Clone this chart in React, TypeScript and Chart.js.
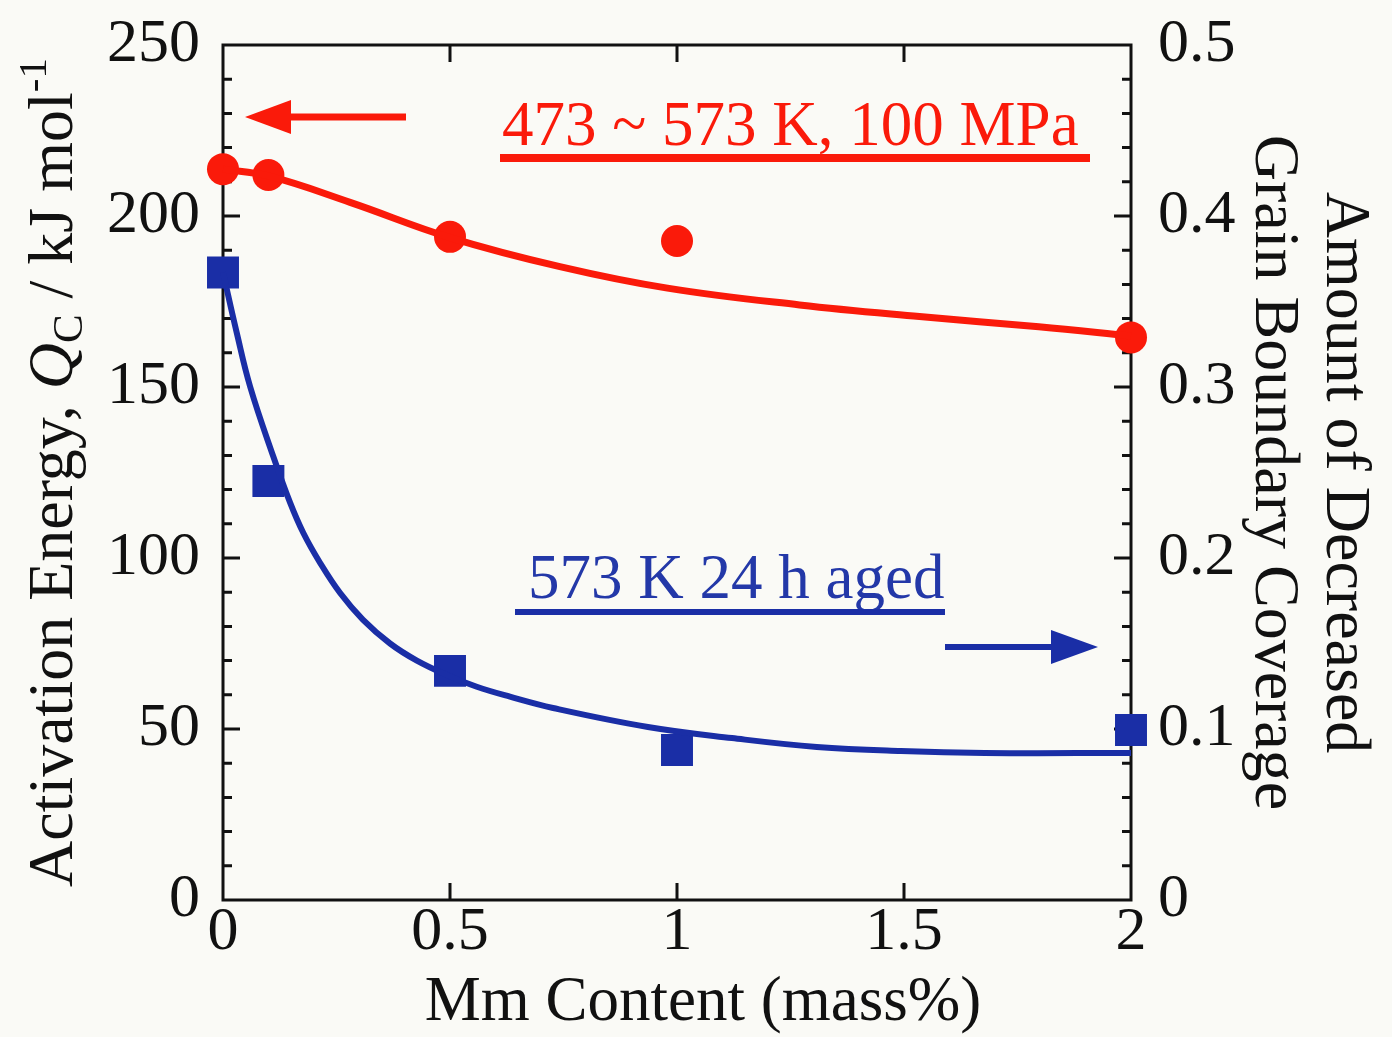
import React, { useEffect, useRef } from 'react';
import { Chart, registerables } from 'chart.js';

Chart.register(...registerables);

// ---------- data ----------
const redPointX = [0, 0.1, 0.5, 1, 2];
const redPointY = [213.7, 212.0, 193.9, 192.7, 164.5];

const redCurveX = [0, 0.1, 0.28, 0.5, 0.742, 0.979, 1.27, 1.534, 1.797, 2.0];
const redCurveY = [213.7, 211.7, 204.0, 193.7, 185.2, 178.9, 174.0, 170.6, 167.6, 164.9];

const bluePointX = [0, 0.1, 0.5, 1, 2];
const bluePointY = [0.367, 0.245, 0.134, 0.0877, 0.0994];

const blueCurveX = [0, 0.03, 0.06, 0.111, 0.148, 0.177, 0.214, 0.258, 0.308, 0.368, 0.427, 0.493, 0.559, 0.632, 0.727, 0.936, 1.121, 1.308, 1.493, 1.678, 2.0];
const blueCurveY = [0.367, 0.332, 0.3, 0.2592, 0.2322, 0.2146, 0.1971, 0.1795, 0.164, 0.15, 0.14, 0.1316, 0.1247, 0.1189, 0.1123, 0.1012, 0.0947, 0.0895, 0.0871, 0.086, 0.086];

const xTickValues = [0, 0.5, 1, 1.5, 2];
const xTickLabels = ['0', '0.5', '1', '1.5', '2'];
const leftTickValues = [0, 50, 100, 150, 200, 250];
const leftTickLabels = ['0', '50', '100', '150', '200', '250'];
const rightTickValues = [0, 0.1, 0.2, 0.3, 0.4, 0.5];
const rightTickLabels = ['0', '0.1', '0.2', '0.3', '0.4', '0.5'];

const redLabel = '473 ~ 573 K, 100 MPa';
const blueLabel = '573 K 24 h aged';
const xTitle = 'Mm Content (mass%)';
const rightTitleLines = ['Amount of Decreased', 'Grain Boundary Coverage'];

// ---------- style ----------
const W = 1392;
const H = 1037;
const FONT = '"Liberation Serif", "DejaVu Serif", "Times New Roman", serif';
const RED = '#fa1a0a';
const BLUE = '#1a2ea6';
const BLUE_TEXT = '#2338a8';
const INK = '#111111';
const BG = '#fafaf6';

const toPts = (xs: number[], ys: number[]) => xs.map((x, i) => ({ x, y: ys[i] }));

type Run = { text: string; font: string; dy: number };

function drawRuns(ctx: CanvasRenderingContext2D, runs: Run[], cx: number, y: number) {
  let total = 0;
  const widths = runs.map((r) => {
    ctx.font = r.font;
    const w = ctx.measureText(r.text).width;
    total += w;
    return w;
  });
  let x = cx - total / 2;
  runs.forEach((r, i) => {
    ctx.font = r.font;
    ctx.fillText(r.text, x, y + r.dy);
    x += widths[i];
  });
}

function arrow(ctx: CanvasRenderingContext2D, x0: number, x1: number, y: number, headLen: number, headHalf: number, lw: number, color: string) {
  const dir = Math.sign(x1 - x0);
  ctx.save();
  ctx.strokeStyle = color;
  ctx.fillStyle = color;
  ctx.lineWidth = lw;
  ctx.beginPath();
  ctx.moveTo(x0, y);
  ctx.lineTo(x1 - dir * headLen, y);
  ctx.stroke();
  ctx.beginPath();
  ctx.moveTo(x1, y);
  ctx.lineTo(x1 - dir * headLen, y - headHalf);
  ctx.lineTo(x1 - dir * headLen, y + headHalf);
  ctx.closePath();
  ctx.fill();
  ctx.restore();
}

const framePlugin = {
  id: 'frameAndDecor',
  beforeDraw(chart: any) {
    const ctx = chart.ctx as CanvasRenderingContext2D;
    ctx.save();
    ctx.fillStyle = BG;
    ctx.fillRect(0, 0, chart.width, chart.height);
    ctx.restore();
  },
  beforeDatasetsDraw(chart: any) {
    const ctx = chart.ctx as CanvasRenderingContext2D;
    const { left, right, top, bottom } = chart.chartArea;
    const ys = chart.scales.y;
    const xs = chart.scales.x;
    ctx.save();
    ctx.strokeStyle = INK;
    ctx.lineWidth = 3;
    ctx.lineCap = 'butt';
    for (let v = 10; v < 250; v += 10) {
      const p = ys.getPixelForValue(v);
      const len = v % 50 === 0 ? 17 : 9;
      ctx.beginPath();
      ctx.moveTo(left, p);
      ctx.lineTo(left + len, p);
      ctx.moveTo(right, p);
      ctx.lineTo(right - len, p);
      ctx.stroke();
    }
    for (const v of xTickValues) {
      if (v === 0 || v === 2) continue;
      const p = xs.getPixelForValue(v);
      ctx.beginPath();
      ctx.moveTo(p, bottom);
      ctx.lineTo(p, bottom - 17);
      ctx.moveTo(p, top);
      ctx.lineTo(p, top + 17);
      ctx.stroke();
    }
    ctx.strokeRect(left, top, right - left, bottom - top);
    ctx.restore();
  },
  afterDraw(chart: any) {
    const ctx = chart.ctx as CanvasRenderingContext2D;
    const { left, right, top, bottom } = chart.chartArea;
    const midY = (top + bottom) / 2;
    ctx.save();
    ctx.textBaseline = 'alphabetic';
    ctx.textAlign = 'left';
    ctx.fillStyle = INK;

    // x title
    ctx.font = `63px ${FONT}`;
    ctx.textAlign = 'center';
    ctx.fillText(xTitle, (left + right) / 2 + 26, 1020);
    ctx.textAlign = 'left';

    // left title (rotated)
    ctx.save();
    ctx.translate(72, midY);
    ctx.rotate(-Math.PI / 2);
    drawRuns(
      ctx,
      [
        { text: 'Activation Energy, ', font: `64px ${FONT}`, dy: 0 },
        { text: 'Q', font: `italic 64px ${FONT}`, dy: 0 },
        { text: 'C', font: `43px ${FONT}`, dy: 10 },
        { text: ' / kJ mol', font: `64px ${FONT}`, dy: 0 },
        { text: '-1', font: `41px ${FONT}`, dy: -26 },
      ],
      0,
      0
    );
    ctx.restore();

    // right title (rotated clockwise)
    ctx.save();
    ctx.font = `64px ${FONT}`;
    ctx.textAlign = 'center';
    ctx.translate(1327, midY);
    ctx.rotate(Math.PI / 2);
    ctx.fillText(rightTitleLines[0], 0, 0);
    ctx.fillText(rightTitleLines[1], 0, 71);
    ctx.restore();

    // red annotation
    ctx.fillStyle = RED;
    ctx.font = `63px ${FONT}`;
    ctx.textAlign = 'left';
    ctx.fillText(redLabel, 502, 145);
    ctx.fillRect(500, 154, 590, 8);
    arrow(ctx, 406, 245, 117, 46, 17, 7, RED);

    // blue annotation
    ctx.fillStyle = BLUE_TEXT;
    ctx.fillText(blueLabel, 528, 598);
    ctx.fillStyle = BLUE;
    ctx.fillRect(515, 609, 430, 6);
    arrow(ctx, 945, 1098, 647, 47, 17, 6, BLUE);
    ctx.restore();
  },
};

const zeroPad = (s: any) => {
  s.paddingTop = 0;
  s.paddingBottom = 0;
  s.paddingLeft = 0;
  s.paddingRight = 0;
};

export default function App() {
  const ref = useRef<HTMLCanvasElement>(null);

  useEffect(() => {
    document.body.style.margin = '0';
    const canvas = ref.current!;
    const tickFont = { family: FONT, size: 62 };
    const chart = new Chart(canvas, {
      type: 'scatter',
      data: {
        datasets: [
          {
            label: 'red curve',
            data: toPts(redCurveX, redCurveY),
            yAxisID: 'y',
            showLine: true,
            borderColor: RED,
            borderWidth: 7,
            pointRadius: 0,
            tension: 0.4,
            clip: false,
          } as any,
          {
            label: 'red points',
            data: toPts(redPointX, redPointY),
            yAxisID: 'y',
            showLine: false,
            pointStyle: 'circle',
            pointRadius: 16,
            backgroundColor: RED,
            borderColor: RED,
            borderWidth: 0,
            clip: false,
          } as any,
          {
            label: 'blue curve',
            data: toPts(blueCurveX, blueCurveY),
            yAxisID: 'y2',
            showLine: true,
            borderColor: BLUE,
            borderWidth: 6,
            pointRadius: 0,
            tension: 0.4,
            clip: false,
          } as any,
          {
            label: 'blue points',
            data: toPts(bluePointX, bluePointY),
            yAxisID: 'y2',
            showLine: false,
            pointStyle: 'rect',
            pointRadius: 22.6,
            backgroundColor: BLUE,
            borderColor: BLUE,
            borderWidth: 0,
            clip: false,
          } as any,
        ],
      },
      options: {
        animation: false,
        responsive: false,
        events: [],
        layout: { padding: { top: 45, left: 0, right: 0, bottom: 0 } },
        plugins: { legend: { display: false }, tooltip: { enabled: false } },
        scales: {
          x: {
            type: 'linear',
            position: 'bottom',
            min: 0,
            max: 2,
            afterFit: (s: any) => {
              s.height = H - 900;
              zeroPad(s);
            },
            afterBuildTicks: (s: any) => {
              s.ticks = xTickValues.map((v) => ({ value: v }));
            },
            ticks: {
              callback: (_v: any, i: number) => xTickLabels[i],
              font: tickFont,
              color: INK,
              padding: -4,
              maxRotation: 0,
              autoSkip: false,
            },
            grid: { display: false, drawTicks: false },
            border: { display: false },
          },
          y: {
            type: 'linear',
            position: 'left',
            min: 0,
            max: 250,
            afterFit: (s: any) => {
              s.width = 223;
              zeroPad(s);
            },
            afterBuildTicks: (s: any) => {
              s.ticks = leftTickValues.map((v) => ({ value: v }));
            },
            ticks: {
              callback: (_v: any, i: number) => leftTickLabels[i],
              font: tickFont,
              color: INK,
              padding: 23,
              autoSkip: false,
            },
            grid: { display: false, drawTicks: false },
            border: { display: false },
          },
          y2: {
            type: 'linear',
            position: 'right',
            min: 0,
            max: 0.5,
            afterFit: (s: any) => {
              s.width = W - 1131;
              zeroPad(s);
            },
            afterBuildTicks: (s: any) => {
              s.ticks = rightTickValues.map((v) => ({ value: v }));
            },
            ticks: {
              callback: (_v: any, i: number) => rightTickLabels[i],
              font: tickFont,
              color: INK,
              padding: 27,
              autoSkip: false,
            },
            grid: { display: false, drawTicks: false },
            border: { display: false },
          },
        },
      } as any,
      plugins: [framePlugin],
    });
    return () => chart.destroy();
  }, []);

  return (
    <div style={{ position: 'fixed', left: 0, top: 0, width: W, height: H }}>
      <canvas ref={ref} width={W} height={H} style={{ display: 'block', width: W, height: H }} />
    </div>
  );
}
